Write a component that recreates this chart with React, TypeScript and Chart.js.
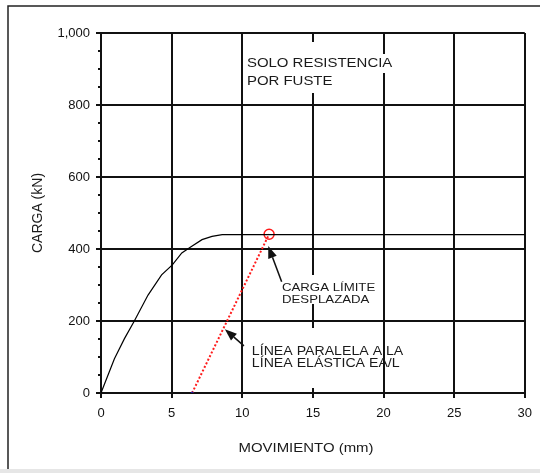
import React, { useEffect, useRef } from "react";
import { Chart, registerables } from "chart.js";

Chart.register(...registerables);

// ---- data ----
const movimiento = [0, 0.95, 1.66, 2.33, 3.33, 4.29, 5.05, 5.72, 6.32, 7.15, 7.86, 8.58, 30];
const carga = [0, 95, 151, 198, 272, 328, 356, 389, 405, 426, 435, 440, 440];
const paralelaX = [6.45, 11.9];
const paralelaY = [0, 441];
const limiteX = [11.9];
const limiteY = [441];

const xTickValues = [0, 5, 10, 15, 20, 25, 30];
const yTickValues = [0, 200, 400, 600, 800, 1000];
const yMinorValues = [50, 100, 150, 250, 300, 350, 450, 500, 550, 650, 700, 750, 850, 900, 950];

const xTitle = "MOVIMIENTO (mm)";
const yTitle = "CARGA (kN)";

const notaFuste = ["SOLO RESISTENCIA", "POR FUSTE"];
const notaLimite = ["CARGA LÍMITE", "DESPLAZADA"];
const notaParalela = ["LÍNEA PARALELA A LA", "LÍNEA ELÁSTICA EA/L"];

// anchor of each note (left edge, first-line centre) in data units
const notaFusteAt = [10.33, 916];
const notaLimiteAt = [12.81, 291];
const notaParalelaAt = [10.68, 114];

// arrows: [tail, tip] in data units
const flechaLimiteX = [12.79, 11.84];
const flechaLimiteY = [309, 408];
const flechaParalelaX = [10.12, 8.77];
const flechaParalelaY = [131, 177];

const FONT = "Arial, 'Liberation Sans', sans-serif";
const STRETCH = 1.15;

function drawNote(ctx: CanvasRenderingContext2D, lines: string[], px: number, py: number, size: number, gap: number) {
  ctx.save();
  ctx.fillStyle = "#1a1a1a";
  ctx.font = `${size}px ${FONT}`;
  ctx.textBaseline = "middle";
  ctx.textAlign = "left";
  lines.forEach((t, i) => {
    ctx.save();
    ctx.translate(px, py + i * gap);
    ctx.scale(STRETCH, 1);
    ctx.fillText(t, 0, 0);
    ctx.restore();
  });
  ctx.restore();
}

function drawArrow(ctx: CanvasRenderingContext2D, x0: number, y0: number, x1: number, y1: number) {
  const ang = Math.atan2(y1 - y0, x1 - x0);
  const len = 12;
  const half = 4.5;
  const bx = x1 - len * Math.cos(ang);
  const by = y1 - len * Math.sin(ang);
  ctx.save();
  ctx.strokeStyle = "#111";
  ctx.fillStyle = "#111";
  ctx.lineWidth = 1.5;
  ctx.beginPath();
  ctx.moveTo(x0, y0);
  ctx.lineTo(bx, by);
  ctx.stroke();
  ctx.beginPath();
  ctx.moveTo(x1, y1);
  ctx.lineTo(bx + half * Math.sin(ang), by - half * Math.cos(ang));
  ctx.lineTo(bx - half * Math.sin(ang), by + half * Math.cos(ang));
  ctx.closePath();
  ctx.fill();
  ctx.restore();
}

const notesPlugin = {
  id: "notesPlugin",
  afterDraw(chart: any) {
    const { ctx, chartArea } = chart;
    const x = chart.scales.x;
    const y = chart.scales.y;
    ctx.save();

    // outer frame
    ctx.fillStyle = "#e6e6e6";
    ctx.fillRect(0, 469, chart.width, 4);
    ctx.strokeStyle = "#222";
    ctx.lineWidth = 1.5;
    ctx.beginPath();
    ctx.moveTo(8, 469);
    ctx.lineTo(8, 6);
    ctx.lineTo(chart.width, 6);
    ctx.stroke();

    // minor y ticks
    ctx.strokeStyle = "#111";
    ctx.lineWidth = 2;
    yMinorValues.forEach((v) => {
      const py = Math.round(y.getPixelForValue(v));
      ctx.beginPath();
      ctx.moveTo(chartArea.left - 3, py);
      ctx.lineTo(chartArea.left, py);
      ctx.stroke();
    });

    // white boxes behind the notes
    ctx.fillStyle = "#ffffff";
    const boxes = [
      [244, 42, 380, 93],
      [244, 54, 396, 73],
      [279, 275, 378, 304],
      [249, 328, 375, 388],
    ];
    boxes.forEach(([a, b, c, d]) => ctx.fillRect(a, b, c - a, d - b));

    drawNote(ctx, notaFuste, x.getPixelForValue(notaFusteAt[0]), y.getPixelForValue(notaFusteAt[1]), 13, 18.5);
    drawNote(ctx, notaLimite, x.getPixelForValue(notaLimiteAt[0]), y.getPixelForValue(notaLimiteAt[1]), 11.5, 12);
    drawNote(ctx, notaParalela, x.getPixelForValue(notaParalelaAt[0]), y.getPixelForValue(notaParalelaAt[1]), 12.3, 11.5);

    drawArrow(ctx,
      x.getPixelForValue(flechaLimiteX[0]), y.getPixelForValue(flechaLimiteY[0]),
      x.getPixelForValue(flechaLimiteX[1]), y.getPixelForValue(flechaLimiteY[1]));
    drawArrow(ctx,
      x.getPixelForValue(flechaParalelaX[0]), y.getPixelForValue(flechaParalelaY[0]),
      x.getPixelForValue(flechaParalelaX[1]), y.getPixelForValue(flechaParalelaY[1]));

    // axis titles
    ctx.fillStyle = "#1a1a1a";
    ctx.textAlign = "center";
    ctx.textBaseline = "middle";
    ctx.font = `13px ${FONT}`;
    ctx.save();
    ctx.translate(306, 448);
    ctx.scale(STRETCH, 1);
    ctx.fillText(xTitle, 0, 0);
    ctx.restore();
    ctx.save();
    ctx.translate(38, (chartArea.top + chartArea.bottom) / 2);
    ctx.rotate(-Math.PI / 2);
    ctx.font = `14px ${FONT}`;
    ctx.fillText(yTitle, 0, 0);
    ctx.restore();

    ctx.restore();
  },
};

export default function App() {
  const ref = useRef<HTMLCanvasElement | null>(null);

  useEffect(() => {
    if (!ref.current) return;
    const chart = new Chart(ref.current, {
      type: "scatter",
      data: {
        datasets: [
          {
            label: "curva",
            data: movimiento.map((v, i) => ({ x: v, y: carga[i] })),
            showLine: true,
            borderColor: "#000",
            borderWidth: 1.2,
            pointRadius: 0,
            tension: 0,
          },
          {
            label: "paralela",
            data: paralelaX.map((v, i) => ({ x: v, y: paralelaY[i] })),
            showLine: true,
            borderColor: "#ff1a1a",
            borderWidth: 2,
            borderDash: [2, 2],
            pointRadius: [1.5, 0],
            pointBackgroundColor: "#1a1aa0",
            pointBorderWidth: 0,
          },
          {
            label: "limite",
            data: limiteX.map((v, i) => ({ x: v, y: limiteY[i] })),
            showLine: false,
            pointRadius: 5,
            pointBorderColor: "#ff1a1a",
            pointBackgroundColor: "rgba(0,0,0,0)",
            pointBorderWidth: 1.5,
          },
        ],
      },
      options: {
        animation: false,
        responsive: false,
        layout: { padding: { top: 33, right: 15, left: 0, bottom: 0 } },
        plugins: { legend: { display: false }, tooltip: { enabled: false } },
        scales: {
          x: {
            type: "linear",
            min: 0,
            max: 30,
            afterBuildTicks: (s: any) => {
              s.ticks = xTickValues.map((v) => ({ value: v }));
            },
            afterFit: (s: any) => {
              s.height = 80;
            },
            grid: { color: "#111", lineWidth: 2, tickLength: 5, tickColor: "#111", drawTicks: true },
            border: { display: true, color: "#111", width: 2 },
            ticks: { color: "#111", font: { family: FONT, size: 13 }, padding: 8, maxRotation: 0 },
          },
          y: {
            type: "linear",
            min: 0,
            max: 1000,
            afterBuildTicks: (s: any) => {
              s.ticks = yTickValues.map((v) => ({ value: v }));
            },
            afterFit: (s: any) => {
              s.width = 101;
            },
            grid: { color: "#111", lineWidth: 2, tickLength: 5, tickColor: "#111", drawTicks: true },
            border: { display: true, color: "#111", width: 2 },
            ticks: { color: "#111", font: { family: FONT, size: 13 }, padding: 6 },
          },
        },
      },
      plugins: [notesPlugin],
    } as any);
    return () => chart.destroy();
  }, []);

  return (
    <div style={{ position: "fixed", left: 0, top: 0, width: 540, height: 473, background: "#fff" }}>
      <canvas ref={ref} width={540} height={473} style={{ display: "block" }} />
    </div>
  );
}
